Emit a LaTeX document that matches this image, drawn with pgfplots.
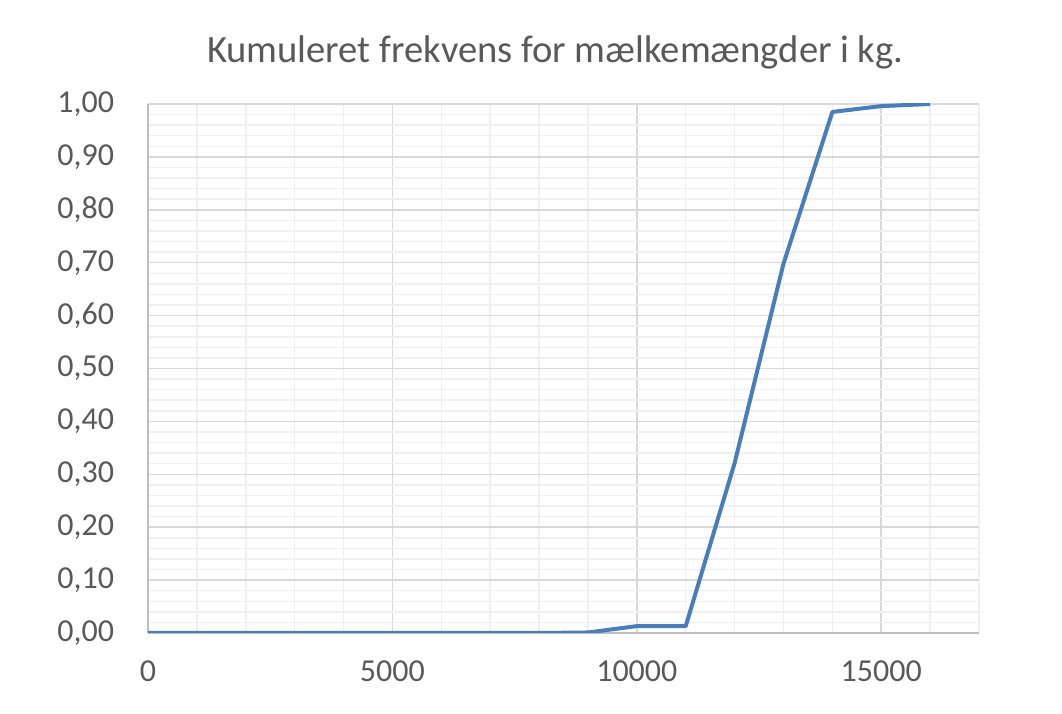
\documentclass[border=0pt]{standalone}
\usepackage{fontspec}
\setmainfont{Carlito}
\usepackage{pgfplots}
\pgfplotsset{compat=1.18}
\definecolor{serie}{HTML}{4A7EBB}
\definecolor{txt}{HTML}{595959}
\definecolor{majgrid}{HTML}{D9D9D9}
\definecolor{mingrid}{HTML}{F0F0F0}
\definecolor{axline}{HTML}{BFBFBF}
\begin{document}
\begin{tikzpicture}
\useasboundingbox (0,0) rectangle (531bp,357bp);
\begin{axis}[
  at={(74bp,40.5bp)}, anchor=south west,
  scale only axis,
  width=415.5bp, height=264.5bp,
  xmin=0, xmax=17000, ymin=0, ymax=1,
  axis x line=bottom, axis y line=left,
  axis line style={axline, line width=0.9bp, -},
  xtick={0,5000,10000,15000},
  minor xtick={1000,2000,...,17000},
  ytick={0,0.1,...,1.0001},
  minor ytick={0.02,0.04,...,1.0001},
  major tick length=0pt, minor tick length=0pt,
  grid=both,
  major grid style={majgrid, line width=0.75bp},
  minor grid style={mingrid, line width=0.75bp},
  tick label style={font=\fontsize{16bp}{19bp}\selectfont, text=txt},
  /pgf/number format/assume math mode=true,
  scaled x ticks=false,
  yticklabel style={/pgf/number format/.cd, fixed, fixed zerofill, precision=2, use comma, /tikz/xshift=-13.5bp},
  xticklabel style={/pgf/number format/.cd, fixed, 1000 sep={}, /tikz/yshift=-10.5bp},
  title={Kumuleret frekvens for mælkemængder i kg.},
  title style={at={(axis description cs:0.49,1)}, anchor=center, yshift=20bp,
    font=\fontsize{19.3bp}{23bp}\selectfont, text=txt},
]
\addplot[serie, line width=2bp, line join=round] coordinates {
  (0,0) (1000,0) (2000,0) (3000,0) (4000,0) (5000,0) (6000,0) (7000,0)
  (8000,0) (9000,0.001) (10000,0.013) (11000,0.013) (12000,0.321)
  (13000,0.698) (14000,0.985) (15000,0.996) (16000,1.0)
};
\end{axis}
\end{tikzpicture}
\end{document}
